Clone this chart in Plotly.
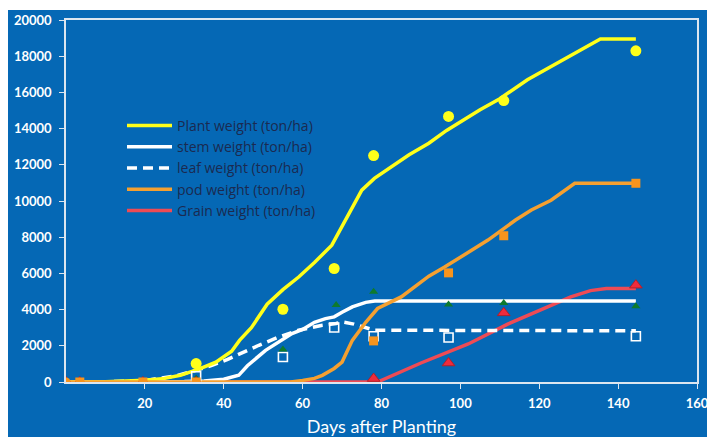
import plotly.graph_objects as go

# ---- simulated curves (lines) ----
plant_days = [0, 10, 20, 25, 29, 34, 38, 42, 44, 47, 51, 55, 59, 63, 67.4, 72, 75, 78.2, 82, 87, 92, 96.5, 105, 110, 117, 126, 131, 135.5, 144.5]
plant_vals = [0, 20, 100, 200, 370, 740, 1100, 1700, 2300, 3000, 4300, 5100, 5800, 6600, 7560, 9400, 10600, 11250, 11800, 12550, 13190, 13900, 15040, 15650, 16700, 17800, 18400, 18950, 18950]

stem_days = [0, 20, 30, 35, 40, 43.8, 46, 50.6, 55, 57.3, 60, 63, 65.8, 68, 70, 72.6, 76, 78.3, 144.5]
stem_vals = [0, 0, 30, 60, 150, 370, 900, 1750, 2350, 2680, 2900, 3300, 3500, 3600, 3850, 4150, 4400, 4470, 4470]

leaf_days = [0, 10, 20, 28, 33, 37, 41, 44.2, 48.9, 54, 59, 65, 68.5, 70, 73, 75.9, 78.3, 144.5]
leaf_vals = [0, 10, 80, 350, 650, 920, 1250, 1570, 2030, 2490, 2860, 3140, 3230, 3320, 3200, 3010, 2860, 2830]

pod_days = [0, 57, 60, 63, 65, 68, 70, 72.6, 76, 79, 85, 92, 96, 100, 107, 114, 118, 123, 129, 144.5]
pod_vals = [0, 0, 90, 200, 370, 750, 1100, 2300, 3300, 4060, 4700, 5850, 6350, 6900, 7840, 8950, 9500, 10040, 10980, 10980]

grain_days = [0, 79, 90, 102, 112, 123, 128, 133, 137, 144.5]
grain_vals = [0, 0, 1050, 2100, 3200, 4250, 4700, 5050, 5170, 5170]

# ---- observations (markers) ----
plant_obs_days = [33, 55, 68, 78, 97, 111, 144.5]
plant_obs_vals = [1020, 4020, 6270, 12510, 14670, 15550, 18300]

stem_obs_days = [33, 55, 68.5, 78, 97, 111, 144.5]
stem_obs_vals = [200, 1790, 4250, 4980, 4280, 4370, 4190]

leaf_obs_days = [33, 55, 68, 78, 97, 144.5]
leaf_obs_vals = [320, 1380, 3010, 2530, 2460, 2530]

grain_obs_days = [0, 3.5, 19.5, 33, 78, 97, 111, 144.5]
grain_obs_vals = [0, 0, 0, 0, 190, 1050, 3820, 5350]

pod_obs_days = [0, 3.5, 19.5, 33, 78, 97, 111, 144.5]
pod_obs_vals = [0, 0, 0, 0, 2270, 6030, 8080, 10980]
pod_obs_symbols = ["circle", "square", "square", "square", "square", "square", "square", "square"]

x_ticks = [20, 40, 60, 80, 100, 120, 140, 160]
y_ticks = [0, 2000, 4000, 6000, 8000, 10000, 12000, 14000, 16000, 18000, 20000]

YELLOW = "#FFFF1A"
WHITE = "#FFFFFF"
ORANGE = "#F5A030"
RED = "#EE4B55"
BLUE = "#0568B5"

fig = go.Figure()

fig.add_trace(go.Scatter(x=grain_days, y=grain_vals, mode="lines", name="Grain weight (ton/ha)",
                         line=dict(color=RED, width=3.5), legendrank=5))
fig.add_trace(go.Scatter(x=leaf_days, y=leaf_vals, mode="lines", name="leaf weight (ton/ha)",
                         line=dict(color=WHITE, width=3.5, dash="10px,6px"), legendrank=3))
fig.add_trace(go.Scatter(x=stem_days, y=stem_vals, mode="lines", name="stem weight (ton/ha)",
                         line=dict(color=WHITE, width=3.5), legendrank=2))
fig.add_trace(go.Scatter(x=plant_days, y=plant_vals, mode="lines", name="Plant weight (ton/ha)",
                         line=dict(color=YELLOW, width=3.5), legendrank=1))
fig.add_trace(go.Scatter(x=pod_days, y=pod_vals, mode="lines", name="pod weight (ton/ha)",
                         line=dict(color=ORANGE, width=3.5), legendrank=4))

fig.add_trace(go.Scatter(x=plant_obs_days, y=plant_obs_vals, mode="markers", showlegend=False,
                         marker=dict(symbol="circle", size=11, color=YELLOW)))
fig.add_trace(go.Scatter(x=leaf_obs_days, y=leaf_obs_vals, mode="markers", showlegend=False,
                         marker=dict(symbol="square-open", size=9, color=WHITE, line=dict(width=1.6, color=WHITE))))
fig.add_trace(go.Scatter(x=stem_obs_days, y=stem_obs_vals, mode="markers", showlegend=False,
                         marker=dict(symbol="triangle-up", size=8, color="#0E7A2E")))
fig.add_trace(go.Scatter(x=grain_obs_days, y=grain_obs_vals, mode="markers", showlegend=False,
                         marker=dict(symbol="triangle-up", size=11, color="#EF2B3C", line=dict(width=1, color="#B0202A"))))
fig.add_trace(go.Scatter(x=pod_obs_days, y=pod_obs_vals, mode="markers", showlegend=False,
                         marker=dict(symbol=pod_obs_symbols, size=9, color="#F7941D")))

# page body has an 8px margin; figure is sized/offset to compensate
W, H = 707, 429
L, R, T, B = 58, 18, 12, 55
pw, ph = W - L - R, H - T - B

# blue panel: figure coords x from -1 to W, y from 2 to H
fig.add_shape(type="rect", xref="paper", yref="paper", layer="below",
              x0=-L / pw - 0.01, x1=(W - L) / pw + 0.01,
              y0=-B / ph - 0.01, y1=(H - B - 2) / ph,
              fillcolor=BLUE, line=dict(width=0))

axis_font = dict(family="Lato, 'Open Sans', sans-serif", size=13, color="white", weight="bold")

fig.update_layout(
    width=W, height=H,
    margin=dict(l=L, r=R, t=T, b=B),
    paper_bgcolor="white",
    plot_bgcolor="rgba(0,0,0,0)",
    showlegend=True,
    legend=dict(x=(114 - L) / pw, y=(H - B - 102) / ph, xanchor="left", yanchor="top",
                bgcolor="rgba(0,0,0,0)", borderwidth=0, tracegroupgap=0,
                font=dict(family="'Open Sans', Lato, sans-serif", size=14, color="#1B2A50"),
                itemwidth=45),
    xaxis=dict(range=[0, 160], tickvals=x_ticks, showgrid=False, zeroline=False,
               showline=True, linecolor="#DCE6F0", linewidth=1.5, mirror=True,
               ticks="outside", ticklen=5, tickcolor="#DCE6F0", tickfont=axis_font,
               ticklabelstandoff=4, automargin=False,
               title=dict(text="Days after Planting", standoff=10,
                          font=dict(family="Lato, 'Open Sans', sans-serif", size=18, color="white"))),
    yaxis=dict(range=[0, 20000], tickvals=y_ticks, tickformat="d", showgrid=False, zeroline=False,
               showline=True, linecolor="#DCE6F0", linewidth=1.5, mirror=True,
               ticks="outside", ticklen=5, tickcolor="#DCE6F0", tickfont=axis_font,
               ticklabelstandoff=5, automargin=False),
)

fig.write_html("out.html")
